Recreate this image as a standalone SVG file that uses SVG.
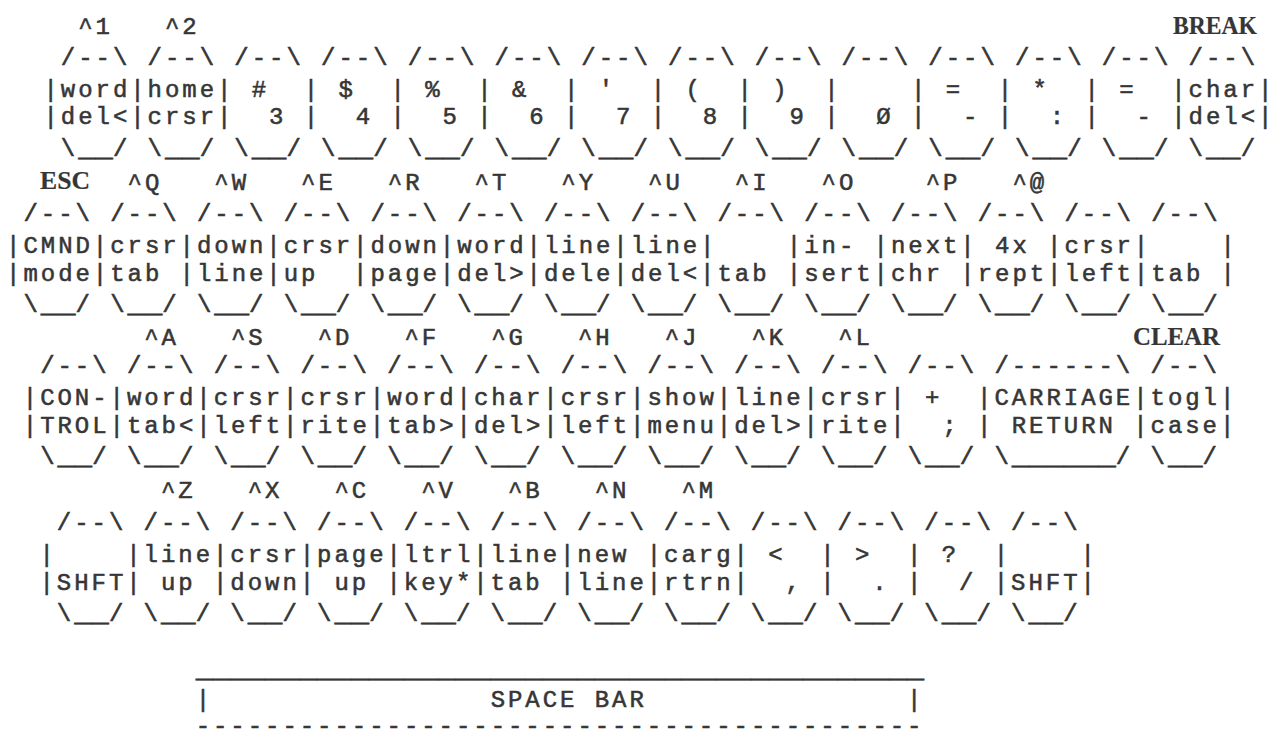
<svg xmlns="http://www.w3.org/2000/svg" width="1278" height="740" viewBox="0 0 1278 740" xml:space="preserve">
<style>
text{font-family:'Liberation Mono','Courier New',monospace;font-size:24px;letter-spacing:2.95px;fill:#363636;stroke:#363636;stroke-width:0.55px;white-space:pre;}
.u{font-size:28.92px;letter-spacing:0;}
.b{font-family:'Liberation Serif','Times New Roman',serif;font-size:26px;font-weight:bold;letter-spacing:0;text-anchor:middle;stroke-width:0.2px;}
</style>
<defs>
<g id="f"><text x="17.35" y="-32">/--\</text><text x="17.35" y="59">\<tspan class="u">__</tspan>/</text></g>
<g id="fw"><text x="17.35" y="-32">/------\</text><text x="17.35" y="59">\<tspan class="u">______</tspan>/</text></g>
</defs>
<rect width="1278" height="740" fill="#fff"/>
<g id="row1">
<g id="r1-word-del" transform="translate(43.5,96.7)"><use href="#f"/><text x="34.7" y="-63">^1</text><text>|word</text><text y="27.5">|del&lt;</text></g>
<g id="r1-home-crsr" transform="translate(130.25,96.7)"><use href="#f"/><text x="34.7" y="-63">^2</text><text>|home</text><text y="27.5">|crsr</text></g>
<g id="r1-3" transform="translate(217,96.7)"><use href="#f"/><text>| #</text><text y="27.5">|  3</text></g>
<g id="r1-4" transform="translate(303.75,96.7)"><use href="#f"/><text>| $</text><text y="27.5">|  4</text></g>
<g id="r1-5" transform="translate(390.5,96.7)"><use href="#f"/><text>| %</text><text y="27.5">|  5</text></g>
<g id="r1-6" transform="translate(477.25,96.7)"><use href="#f"/><text>| &amp;</text><text y="27.5">|  6</text></g>
<g id="r1-7" transform="translate(564,96.7)"><use href="#f"/><text>| '</text><text y="27.5">|  7</text></g>
<g id="r1-8" transform="translate(650.75,96.7)"><use href="#f"/><text>| (</text><text y="27.5">|  8</text></g>
<g id="r1-9" transform="translate(737.5,96.7)"><use href="#f"/><text>| )</text><text y="27.5">|  9</text></g>
<g id="r1-0" transform="translate(824.25,96.7)"><use href="#f"/><text>|</text><text y="27.5">|  Ø</text></g>
<g id="r1-minus" transform="translate(911,96.7)"><use href="#f"/><text>| =</text><text y="27.5">|  -</text></g>
<g id="r1-colon" transform="translate(997.75,96.7)"><use href="#f"/><text>| *</text><text y="27.5">|  :</text></g>
<g id="r1-minus2" transform="translate(1084.5,96.7)"><use href="#f"/><text>| =</text><text y="27.5">|  -</text></g>
<g id="r1-char-del" transform="translate(1171.25,96.7)"><use href="#f"/><text class="b" x="43.75" y="-63" textLength="84" lengthAdjust="spacingAndGlyphs">BREAK</text><text>|char|</text><text y="27.5">|del&lt;|</text></g>
</g>
<g id="row2">
<g id="r2-cmnd" transform="translate(6.1,253.3)"><use href="#f"/><text class="b" x="58.9" y="-64" textLength="50" lengthAdjust="spacingAndGlyphs">ESC</text><text>|CMND</text><text y="27.5">|mode</text></g>
<g id="r2-q" transform="translate(92.85,253.3)"><use href="#f"/><text x="34.7" y="-63">^Q</text><text>|crsr</text><text y="27.5">|tab</text></g>
<g id="r2-w" transform="translate(179.6,253.3)"><use href="#f"/><text x="34.7" y="-63">^W</text><text>|down</text><text y="27.5">|line</text></g>
<g id="r2-e" transform="translate(266.35,253.3)"><use href="#f"/><text x="34.7" y="-63">^E</text><text>|crsr</text><text y="27.5">|up</text></g>
<g id="r2-r" transform="translate(353.1,253.3)"><use href="#f"/><text x="34.7" y="-63">^R</text><text>|down</text><text y="27.5">|page</text></g>
<g id="r2-t" transform="translate(439.85,253.3)"><use href="#f"/><text x="34.7" y="-63">^T</text><text>|word</text><text y="27.5">|del&gt;</text></g>
<g id="r2-y" transform="translate(526.6,253.3)"><use href="#f"/><text x="34.7" y="-63">^Y</text><text>|line</text><text y="27.5">|dele</text></g>
<g id="r2-u" transform="translate(613.35,253.3)"><use href="#f"/><text x="34.7" y="-63">^U</text><text>|line</text><text y="27.5">|del&lt;</text></g>
<g id="r2-i" transform="translate(700.1,253.3)"><use href="#f"/><text x="34.7" y="-63">^I</text><text>|</text><text y="27.5">|tab</text></g>
<g id="r2-o" transform="translate(786.85,253.3)"><use href="#f"/><text x="34.7" y="-63">^O</text><text>|in-</text><text y="27.5">|sert</text></g>
<g id="r2-p" transform="translate(873.6,253.3)"><use href="#f"/><text x="52.05" y="-63">^P</text><text>|next</text><text y="27.5">|chr</text></g>
<g id="r2-at" transform="translate(960.35,253.3)"><use href="#f"/><text x="52.05" y="-63">^@</text><text>| 4x</text><text y="27.5">|rept</text></g>
<g id="r2-left" transform="translate(1047.1,253.3)"><use href="#f"/><text>|crsr</text><text y="27.5">|left</text></g>
<g id="r2-tab" transform="translate(1133.85,253.3)"><use href="#f"/><text>|    |</text><text y="27.5">|tab |</text></g>
</g>
<g id="row3">
<g id="r3-control" transform="translate(22.8,405)"><use href="#f"/><text>|CON-</text><text y="27.5">|TROL</text></g>
<g id="r3-a" transform="translate(109.55,405)"><use href="#f"/><text x="34.7" y="-60">^A</text><text>|word</text><text y="27.5">|tab&lt;</text></g>
<g id="r3-s" transform="translate(196.3,405)"><use href="#f"/><text x="34.7" y="-60">^S</text><text>|crsr</text><text y="27.5">|left</text></g>
<g id="r3-d" transform="translate(283.05,405)"><use href="#f"/><text x="34.7" y="-60">^D</text><text>|crsr</text><text y="27.5">|rite</text></g>
<g id="r3-f" transform="translate(369.8,405)"><use href="#f"/><text x="34.7" y="-60">^F</text><text>|word</text><text y="27.5">|tab&gt;</text></g>
<g id="r3-g" transform="translate(456.55,405)"><use href="#f"/><text x="34.7" y="-60">^G</text><text>|char</text><text y="27.5">|del&gt;</text></g>
<g id="r3-h" transform="translate(543.3,405)"><use href="#f"/><text x="34.7" y="-60">^H</text><text>|crsr</text><text y="27.5">|left</text></g>
<g id="r3-j" transform="translate(630.05,405)"><use href="#f"/><text x="34.7" y="-60">^J</text><text>|show</text><text y="27.5">|menu</text></g>
<g id="r3-k" transform="translate(716.8,405)"><use href="#f"/><text x="34.7" y="-60">^K</text><text>|line</text><text y="27.5">|del&gt;</text></g>
<g id="r3-l" transform="translate(803.55,405)"><use href="#f"/><text x="34.7" y="-60">^L</text><text>|crsr</text><text y="27.5">|rite</text></g>
<g id="r3-semicolon" transform="translate(890.3,405)"><use href="#f"/><text>| +</text><text y="27.5">|  ;</text></g>
<g id="r3-return" transform="translate(977.05,405)"><use href="#fw"/><text>|CARRIAGE</text><text y="27.5">| RETURN</text></g>
<g id="r3-clear" transform="translate(1133.2,405)"><use href="#f"/><text class="b" x="43.3" y="-60" textLength="87" lengthAdjust="spacingAndGlyphs">CLEAR</text><text>|togl|</text><text y="27.5">|case|</text></g>
</g>
<g id="row4">
<g id="r4-shift-left" transform="translate(39.5,562)"><use href="#f"/><text>|</text><text y="27.5">|SHFT</text></g>
<g id="r4-z" transform="translate(126.25,562)"><use href="#f"/><text x="34.7" y="-64">^Z</text><text>|line</text><text y="27.5">| up</text></g>
<g id="r4-x" transform="translate(213,562)"><use href="#f"/><text x="34.7" y="-64">^X</text><text>|crsr</text><text y="27.5">|down</text></g>
<g id="r4-c" transform="translate(299.75,562)"><use href="#f"/><text x="34.7" y="-64">^C</text><text>|page</text><text y="27.5">| up</text></g>
<g id="r4-v" transform="translate(386.5,562)"><use href="#f"/><text x="34.7" y="-64">^V</text><text>|ltrl</text><text y="27.5">|key*</text></g>
<g id="r4-b" transform="translate(473.25,562)"><use href="#f"/><text x="34.7" y="-64">^B</text><text>|line</text><text y="27.5">|tab</text></g>
<g id="r4-n" transform="translate(560,562)"><use href="#f"/><text x="34.7" y="-64">^N</text><text>|new</text><text y="27.5">|line</text></g>
<g id="r4-m" transform="translate(646.75,562)"><use href="#f"/><text x="34.7" y="-64">^M</text><text>|carg</text><text y="27.5">|rtrn</text></g>
<g id="r4-comma" transform="translate(733.5,562)"><use href="#f"/><text>| &lt;</text><text y="27.5">|  ,</text></g>
<g id="r4-period" transform="translate(820.25,562)"><use href="#f"/><text>| &gt;</text><text y="27.5">|  .</text></g>
<g id="r4-slash" transform="translate(907,562)"><use href="#f"/><text>| ?</text><text y="27.5">|  /</text></g>
<g id="r4-shift-right" transform="translate(993.75,562)"><use href="#f"/><text>|    |</text><text y="27.5">|SHFT|</text></g>
</g>
<g id="space-bar" transform="translate(195.65,0)">
<text y="677"><tspan class="u">__________________________________________</tspan></text>
<text y="707">|                SPACE BAR               |</text>
<text y="733">------------------------------------------</text>
</g>
</svg>
